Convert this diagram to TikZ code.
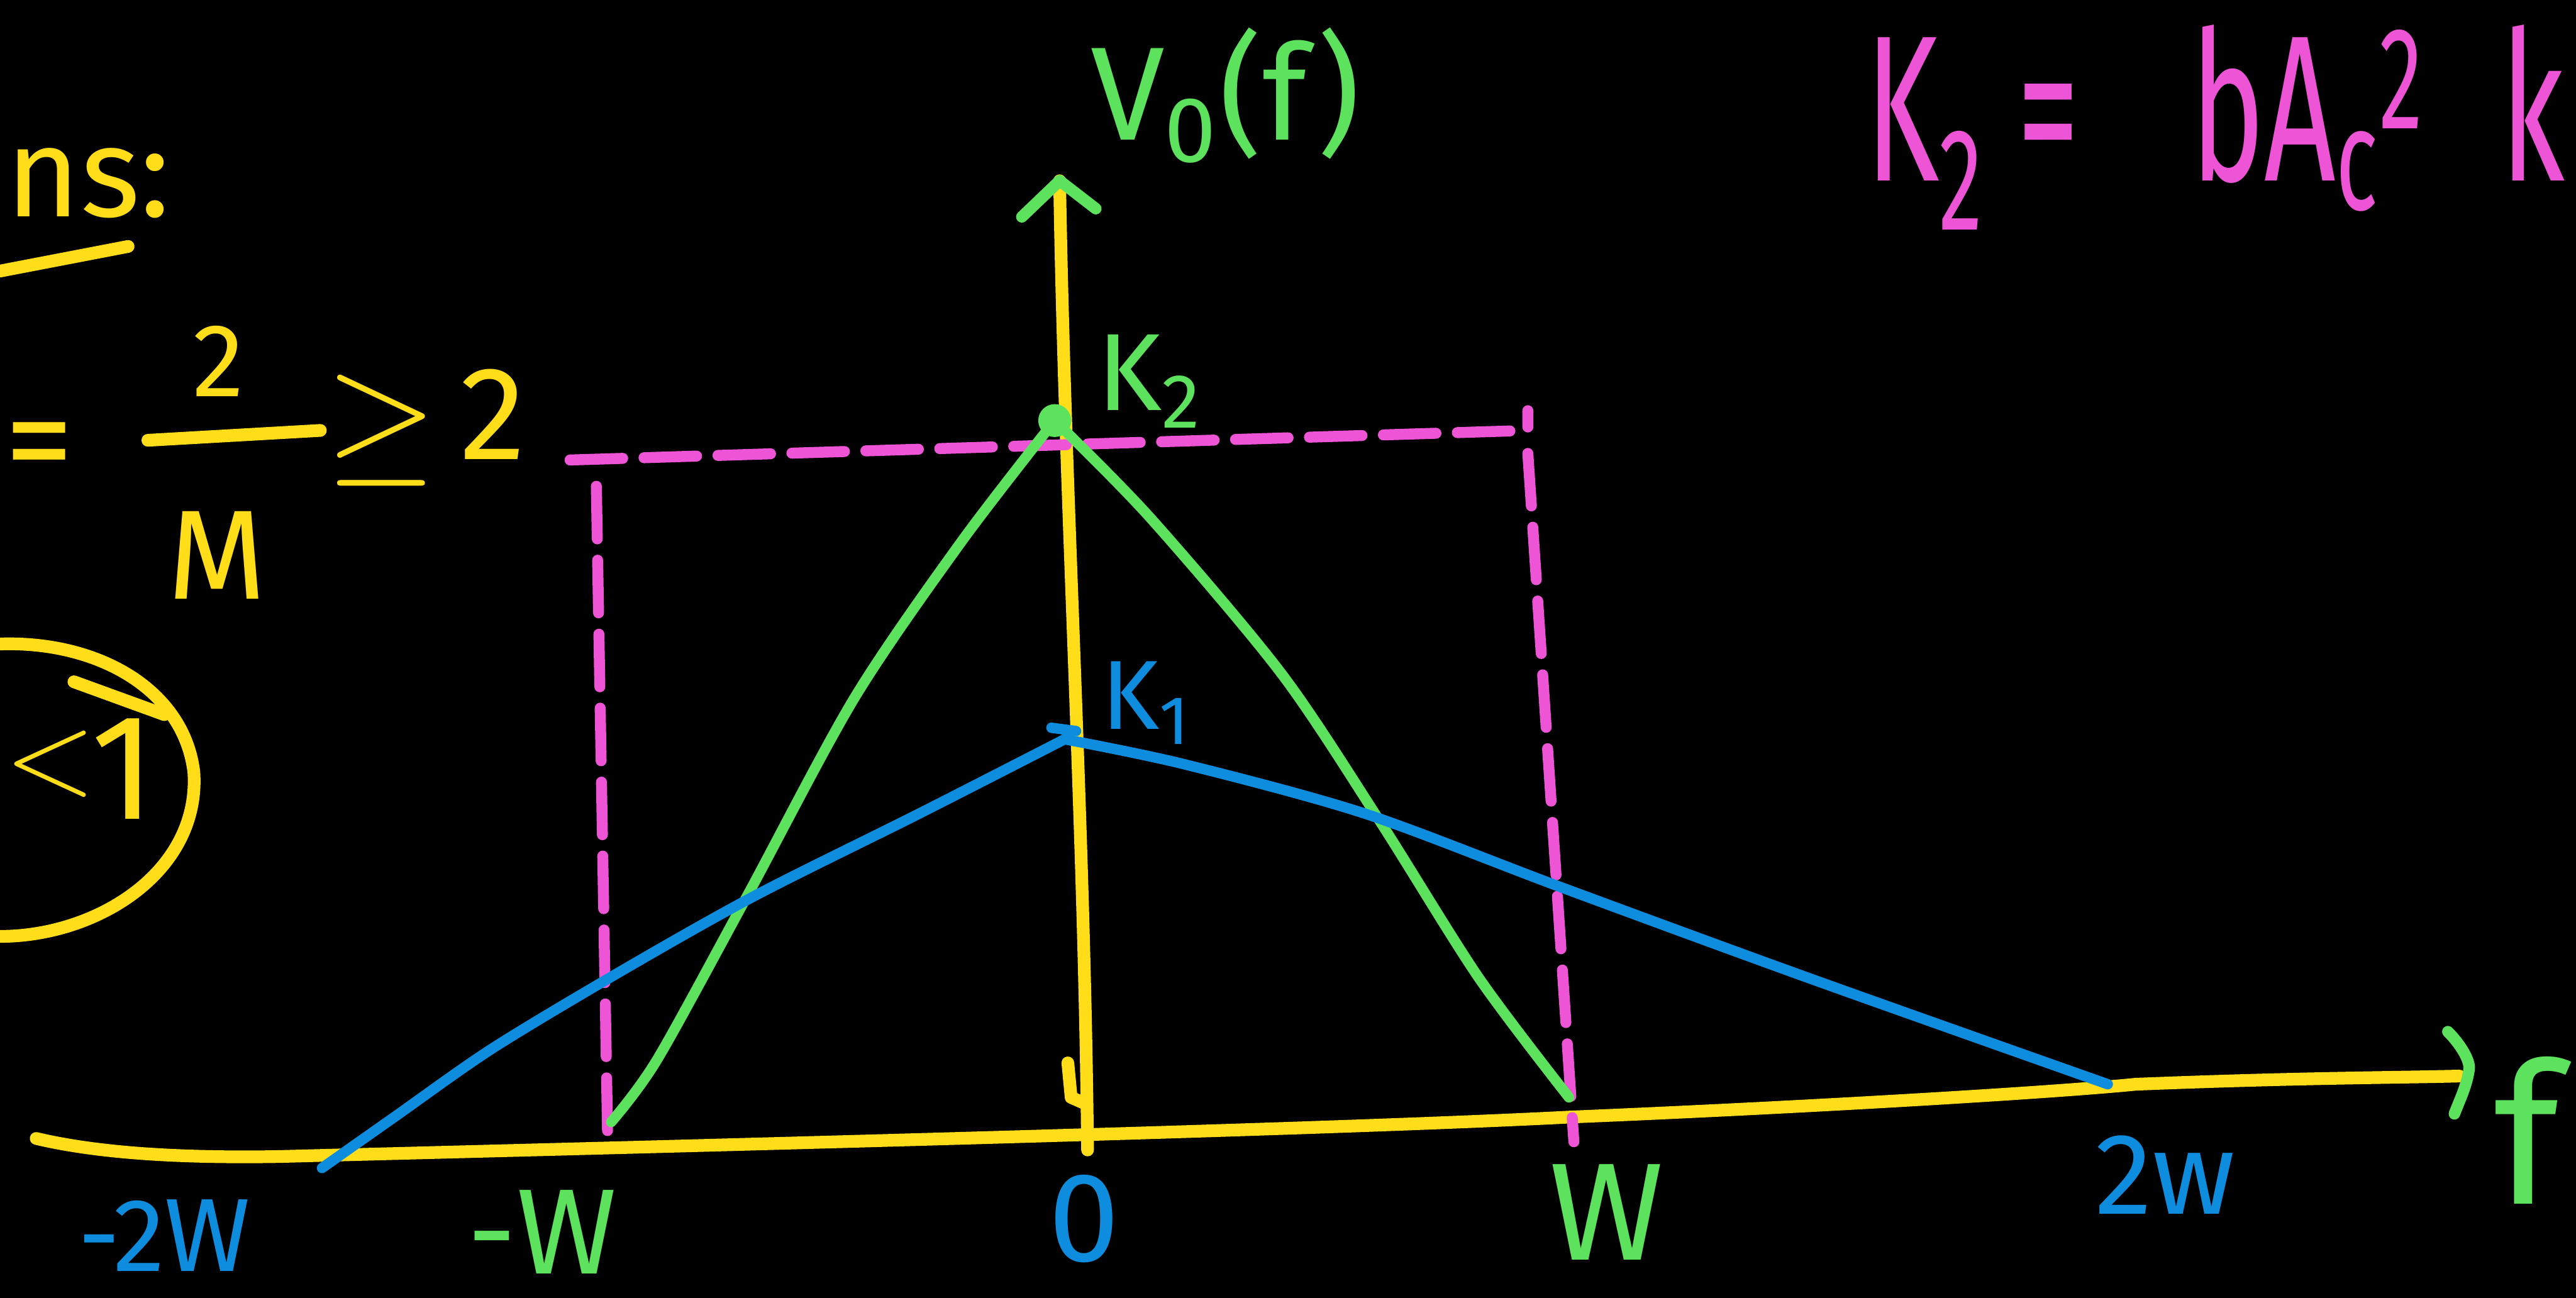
\documentclass[tikz,border=0pt]{standalone}
\usepackage{fontspec}
\setmainfont{Fira Sans}
\definecolor{hy}{RGB}{255,221,25}
\definecolor{hg}{RGB}{92,226,92}
\definecolor{hb}{RGB}{14,140,222}
\definecolor{hm}{RGB}{238,84,214}
\begin{document}
\begin{tikzpicture}[x=0.01cm,y=-0.01cm,line cap=round,line join=round,
  pen/.style={line width=1.8pt},
  axisline/.style={hy,line width=2.2pt},
  dashline/.style={hm,line width=1.9pt,dash pattern=on 0.32cm off 0.13cm},
  lbl/.style={inner sep=0pt,font=\fontsize{#1}{#1}\selectfont}]
\useasboundingbox (0,0) rectangle (1568,790);
\fill[black] (0,0) rectangle (1568,790);
\clip (0,0) rectangle (1568,790);

% key points
\coordinate (xL) at (22,693);
\coordinate (xR) at (1497,655);
\coordinate (yB) at (662,700);
\coordinate (yT) at (645,110);
\coordinate (pk2) at (642,256);
\coordinate (pk1) at (648,450);
\coordinate (mW) at (372,683);
\coordinate (pW) at (955,668);
\coordinate (m2W) at (196,711);
\coordinate (p2W) at (1283,660);
\coordinate (dL) at (347,280);
\coordinate (dR) at (930,262);
\coordinate (dLb) at (370,700);
\coordinate (dRb) at (958,695);

% axes
\draw[axisline] (xL) .. controls (60,702) and (110,705) .. (170,704)
  .. controls (400,698) and (800,688) .. (955,680)
  .. controls (1100,674) and (1250,665) .. (1300,660)
  .. controls (1400,656) and (1460,656) .. (xR);
\draw[axisline] (yB) .. controls (660,500) and (648,300) .. (yT);
\draw[axisline] (650,647) -- (652,668) -- (661,672);
\draw[hg,line width=2pt] (1490,628) .. controls (1498,636) and (1503,645) .. (1503,650) .. controls (1502,660) and (1497,670) .. (1494,678);
\draw[hg,line width=2pt] (622,132) -- (yT) -- (667,127);

% magenta dashed box
\draw[dashline] (dL) -- (dR) -- (930,250);
\draw[dashline] (363,296) -- (dLb);
\draw[dashline] (930,276) -- (dRb);

% green triangle
\draw[hg,pen] plot[smooth,tension=0.5] coordinates {(mW) (400,645) (455,545) (520,425) (585,330) (pk2)};
\draw[hg,pen] plot[smooth,tension=0.5] coordinates {(pk2) (700,315) (780,410) (840,500) (900,595) (pW)};
\fill[hg] (pk2) circle (10);

% blue triangle
\draw[hb,pen] plot[smooth,tension=0.5] coordinates {(m2W) (240,680) (300,638) (380,590) (460,545) (560,495) (pk1)};
\draw[hb,pen] plot[smooth,tension=0.5] coordinates {(pk1) (720,465) (830,495) (950,540) (1100,595) (p2W)};
\draw[hb,pen] (640,443) -- (655,445);

% labels on the graph
\node[lbl=23,hg] (Vf) at (746,58) {V\textsubscript{0}(f)};
\node[lbl=19,hg] (K2) at (700,232) {K\textsubscript{2}};
\node[lbl=17,hb] (K1) at (698,428) {K\textsubscript{1}};
\node[lbl=18,hb] (lm2W) at (100,752) {-2W};
\node[lbl=21,hg] (lmW) at (330,750) {-W};
\node[lbl=22,hb] (l0) at (660,742) {0};
\node[lbl=24,hg] (lW) at (978,738) {W};
\node[lbl=20,hb] (l2W) at (1318,715) {2w};
\node[lbl=34,hg] (lf) at (1538,688) {f};

% magenta formula
\node[lbl=36,hm,anchor=base west] (K2eq) at (1135,110)
  {\scalebox{0.6}[1]{K\textsubscript{2} =\hspace{32pt}bA\textsubscript{c}\textsuperscript{2}\hspace{22pt}k}};

% left yellow notes
\node[lbl=22,hy,anchor=base west] (ns) at (3,132) {ns:};
\draw[hy,line width=2.2pt] (0,165) -- (78,150);
\node[lbl=24,hy,anchor=west] (eq) at (2,277) {=};
\node[lbl=18,hy] (num) at (133,220) {2};
\draw[hy,line width=2.2pt] (90,268) -- (195,262);
\node[lbl=22,hy] (den) at (132,338) {M};
\node[lbl=26,hy] (geq) at (232,262) {$\geq$};
\node[lbl=23,hy] (two) at (300,252) {2};
\draw[hy,line width=2.2pt] (0,392) .. controls (60,390) and (112,420) .. (118,470)
  .. controls (122,530) and (60,570) .. (0,570);
\draw[hy,line width=2.2pt] (45,415) -- (100,435);
\node[lbl=22,hy,anchor=west] (lt) at (2,465) {$<$};
\node[lbl=26,hy] (one) at (75,468) {1};
\end{tikzpicture}
\end{document}
